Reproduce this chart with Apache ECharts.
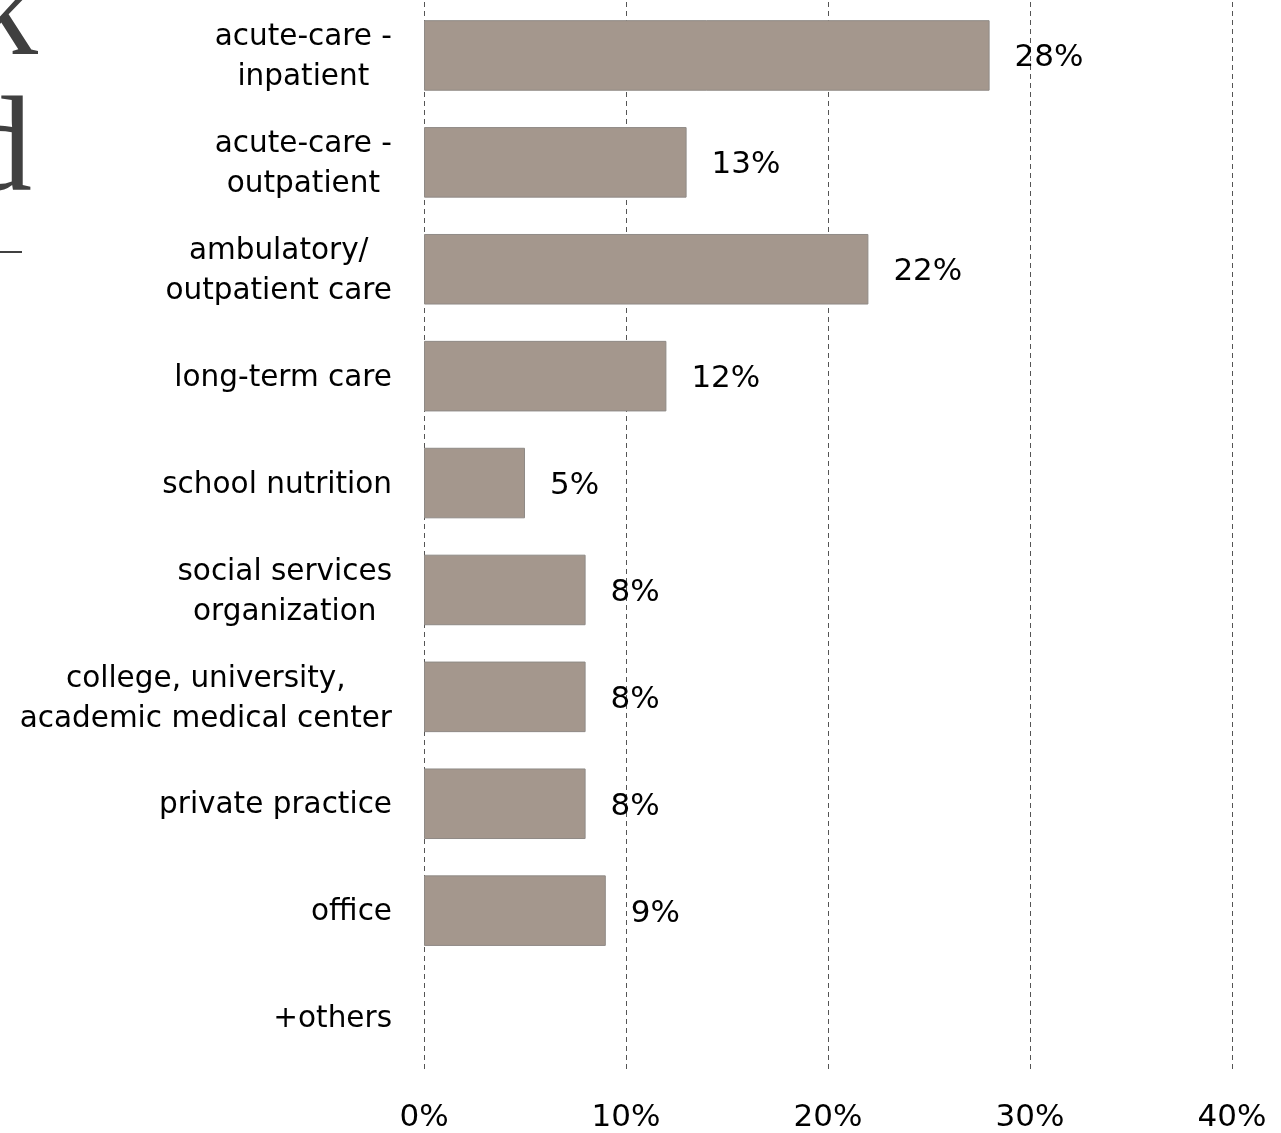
<!DOCTYPE html>
<html>
<head>
<meta charset="utf-8">
<title>Work setting</title>
<script src="https://cdn.jsdelivr.net/npm/echarts@6/dist/echarts.min.js"></script>
<style>
  html, body { margin: 0; padding: 0; background: #fff; }
  #chart { width: 1281px; height: 1133px; }
</style>
</head>
<body>
<div id="chart"></div>
<script>
// Work settings and their share of respondents (%)
const categories = [
  'acute-care -\ninpatient',
  'acute-care -\noutpatient',
  'ambulatory/\noutpatient care',
  'long-term care',
  'school nutrition',
  'social services\norganization',
  'college, university,\nacademic medical center',
  'private practice',
  'office',
  '+others'
];
const shares = [28, 13, 22, 12, 5, 8, 8, 8, 9, null];
const xTicks = [0, 10, 20, 30, 40];

const FONT = '"DejaVu Sans", Verdana, sans-serif';
const BAR_COLOR = '#a4978d';

const chart = echarts.init(document.getElementById('chart'), null, { renderer: 'canvas' });

chart.setOption({
  backgroundColor: '#ffffff',
  animation: false,
  grid: { left: 424, right: 49, top: 2, bottom: 61, containLabel: false },
  xAxis: {
    type: 'value',
    min: xTicks[0],
    max: xTicks[xTicks.length - 1],
    interval: xTicks[1] - xTicks[0],
    axisLine: { show: false },
    axisTick: { show: false },
    splitLine: { show: true, lineStyle: { color: '#555555', width: 1, type: [5, 4] } },
    axisLabel: {
      formatter: '{value}%',
      color: '#000',
      fontFamily: FONT,
      fontSize: 31,
      margin: 31
    }
  },
  yAxis: {
    type: 'category',
    inverse: true,
    data: categories,
    axisLine: { show: false },
    axisTick: { show: false },
    splitLine: { show: false },
    axisLabel: {
      color: '#000',
      fontFamily: FONT,
      fontSize: 29.5,
      lineHeight: 40,
      margin: 32,
      padding: [4, 0, 0, 0],
      // multi-line labels: each line centred within the block, block right-aligned
      formatter: function (value) {
        const lines = value.split('\n');
        if (lines.length === 1) return value;
        return lines.map(function (l) { return '{c|' + l + '}'; }).join('\n');
      },
      rich: {
        c: { align: 'center', color: '#000', fontFamily: FONT, fontSize: 29.5, lineHeight: 40 }
      }
    }
  },
  series: [{
    type: 'bar',
    data: shares,
    barCategoryGap: '34%',
    itemStyle: { color: BAR_COLOR, borderColor: '#8f8a86', borderWidth: 1 },
    label: {
      show: true,
      position: 'right',
      distance: 25,
      offset: [0, 3],
      formatter: '{c}%',
      color: '#000',
      fontFamily: FONT,
      fontSize: 31
    }
  }],
  graphic: [
    {
      type: 'text', x: 38, y: 19, silent: true,
      style: { text: 'k', font: '135px "Liberation Serif", serif', fill: '#404040', textAlign: 'right', textVerticalAlign: 'middle' }
    },
    {
      type: 'text', x: 32, y: 155, silent: true,
      style: { text: 'd', font: '135px "Liberation Serif", serif', fill: '#404040', textAlign: 'right', textVerticalAlign: 'middle' }
    },
    {
      type: 'rect', x: 0, y: 251, silent: true,
      shape: { width: 22, height: 2 },
      style: { fill: '#404040' }
    }
  ]
});
</script>
</body>
</html>
